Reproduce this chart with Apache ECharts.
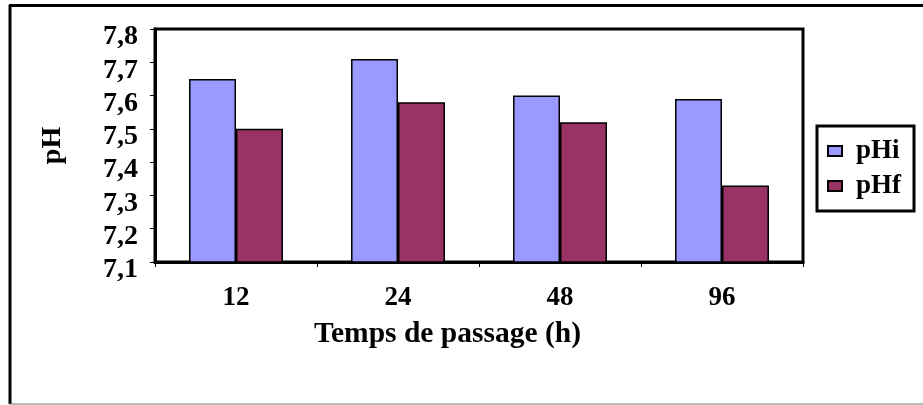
<!DOCTYPE html>
<html>
<head>
<meta charset="utf-8">
<script src="https://cdn.jsdelivr.net/npm/echarts@6/dist/echarts.min.js"></script>
<style>
  html, body { margin: 0; padding: 0; background: #fff; }
  #chart { width: 923px; height: 405px; }
</style>
</head>
<body>
<div id="chart"></div>
<script>
// Passage times (hours) and measured pH values
const categories = ['12', '24', '48', '96'];
const pHi = [7.65, 7.71, 7.60, 7.59];
const pHf = [7.50, 7.58, 7.52, 7.33];
const yTicks = { min: 7.1, max: 7.8, step: 0.1 };

const FONT = '"Liberation Serif", "Times New Roman", serif';

const chart = echarts.init(document.getElementById('chart'), null, { renderer: 'canvas' });

chart.setOption({
  backgroundColor: '#ffffff',
  animation: false,
  textStyle: { fontFamily: FONT, color: '#000', fontWeight: 'bold' },
  graphic: [
    // outer chart frame (left, top and bottom edges)
    { type: 'line', shape: { x1: 10, y1: 5, x2: 10, y2: 404 }, style: { stroke: '#000', lineWidth: 3 } },
    { type: 'line', shape: { x1: 9, y1: 5.5, x2: 923, y2: 5.5 }, style: { stroke: '#000', lineWidth: 3 } },
    { type: 'line', shape: { x1: 9, y1: 404, x2: 923, y2: 404 }, style: { stroke: '#777', lineWidth: 1 } }
  ],
  grid: {
    left: 155, right: 120, top: 29, bottom: 143,
    show: true, borderColor: '#000', borderWidth: 3, backgroundColor: '#fff'
  },
  legend: {
    orient: 'vertical',
    left: 817, top: 126,
    padding: [8, 13, 8, 10],
    itemGap: 1,
    itemWidth: 14, itemHeight: 10,
    icon: 'rect',
    borderColor: '#000', borderWidth: 3,
    backgroundColor: '#fff',
    textStyle: { fontFamily: FONT, fontWeight: 'bold', fontSize: 27, color: '#000', lineHeight: 30, padding: [4, 0, 0, 9] },
    data: ['pHi', 'pHf']
  },
  xAxis: {
    type: 'category',
    data: categories,
    boundaryGap: true,
    axisLine: { lineStyle: { color: '#000', width: 3 } },
    axisTick: { show: true, alignWithLabel: false, length: 5, inside: false, lineStyle: { color: '#000', width: 1 } },
    axisLabel: { fontFamily: FONT, fontWeight: 'bold', fontSize: 27, color: '#000', margin: 23 },
    name: 'Temps de passage (h)',
    nameLocation: 'middle',
    nameGap: 57,
    nameTextStyle: { fontFamily: FONT, fontWeight: 'bold', fontSize: 29.5, color: '#000', padding: [0, 63, 0, 0] }
  },
  yAxis: {
    type: 'value',
    min: yTicks.min, max: yTicks.max, interval: yTicks.step,
    splitLine: { show: false },
    axisLine: { show: true, lineStyle: { color: '#000', width: 3 } },
    axisTick: { show: true, length: 5, lineStyle: { color: '#000', width: 1 } },
    axisLabel: {
      fontFamily: FONT, fontWeight: 'bold', fontSize: 28, color: '#000', margin: 17,
      verticalAlign: 'top', lineHeight: 16,
      formatter: v => v.toFixed(1).replace('.', ',')
    },
    name: 'pH',
    nameLocation: 'middle',
    nameRotate: 90,
    nameGap: 88,
    nameTextStyle: { fontFamily: FONT, fontWeight: 'bold', fontSize: 28, color: '#000' }
  },
  series: [
    {
      name: 'pHi', type: 'bar', data: pHi,
      barGap: '0%', barCategoryGap: '42%',
      itemStyle: { color: '#9999FF', borderColor: '#000', borderWidth: 1.5 }
    },
    {
      name: 'pHf', type: 'bar', data: pHf,
      barGap: '0%', barCategoryGap: '42%',
      itemStyle: { color: '#993366', borderColor: '#000', borderWidth: 1.5 }
    }
  ]
});
</script>
</body>
</html>
